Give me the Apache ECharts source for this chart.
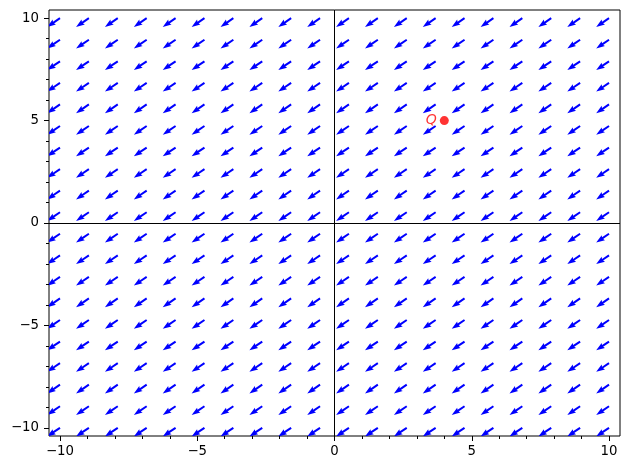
<!DOCTYPE html>
<html>
<head>
<meta charset="utf-8">
<script src="https://cdn.jsdelivr.net/npm/echarts@6/dist/echarts.min.js"></script>
<style>
html,body{margin:0;padding:0;background:#fff;}
#chart{width:630px;height:470px;}
</style>
</head>
<body>
<div id="chart"></div>
<script>
// Grid of sample points (20 per axis, from -10 to 10)
const gridX = [-10, -8.947, -7.895, -6.842, -5.789, -4.737, -3.684, -2.632, -1.579, -0.526, 0.526, 1.579, 2.632, 3.684, 4.737, 5.789, 6.842, 7.895, 8.947, 10];
const gridY = [-10, -8.947, -7.895, -6.842, -5.789, -4.737, -3.684, -2.632, -1.579, -0.526, 0.526, 1.579, 2.632, 3.684, 4.737, 5.789, 6.842, 7.895, 8.947, 10];
// Constant vector field components
const fieldU = -1;
const fieldV = -0.68;
// Point Q
const pointQ = [4, 5];
const pointLabel = 'Q';
// Ticks
const majorTicks = [-10, -5, 0, 5, 10];
const minorTicks = [-10, -9, -8, -7, -6, -5, -4, -3, -2, -1, 0, 1, 2, 3, 4, 5, 6, 7, 8, 9, 10];

const arrows = [];
gridX.forEach(x => gridY.forEach(y => arrows.push([x, y, fieldU, fieldV])));

const chart = echarts.init(document.getElementById('chart'), null, {renderer: 'canvas'});
const fmt = v => String(v).replace('-', '\u2212');
const labelStyle = {color: '#000', fontFamily: 'DejaVu Sans', fontSize: 13.3};

function arrowItem(params, api) {
  const p = api.coord([api.value(0), api.value(1)]);
  const u = api.value(2), v = -api.value(3);
  const m = Math.sqrt(u * u + v * v);
  const dx = u / m, dy = v / m;
  const nx = -dy, ny = dx;
  const L = 15.5, w = 2, hl = 8.6, hw = 6, hal = 7.7;
  const local = [[0, -w/2], [L - hal, -w/2], [L - hl, -hw/2], [L, 0], [L - hl, hw/2], [L - hal, w/2], [0, w/2]];
  const pts = local.map(([a, b]) => [p[0] + a * dx + b * nx, p[1] + a * dy + b * ny]);
  return {type: 'polygon', shape: {points: pts}, style: {fill: '#0000ff', stroke: null}};
}

chart.setOption({
  animation: false,
  backgroundColor: '#fff',
  grid: {left: 49, right: 10, top: 10, bottom: 34, show: true, borderColor: '#000', borderWidth: 1, backgroundColor: 'transparent'},
  xAxis: [
    {type: 'value', min: -10.4, max: 10.4, position: 'bottom',
     axisLine: {show: false, onZero: false}, splitLine: {show: false},
     axisTick: {show: true, length: 5, lineStyle: {color: '#000', width: 1}, customValues: majorTicks},
     axisLabel: Object.assign({margin: 9, customValues: majorTicks, formatter: fmt}, labelStyle)},
    {type: 'value', min: -10.4, max: 10.4, position: 'bottom',
     axisLine: {show: false, onZero: false}, splitLine: {show: false},
     axisTick: {show: true, length: 3, lineStyle: {color: '#000', width: 1}, customValues: minorTicks},
     axisLabel: {show: false}}
  ],
  yAxis: [
    {type: 'value', min: -10.4, max: 10.4, position: 'left',
     axisLine: {show: false, onZero: false}, splitLine: {show: false},
     axisTick: {show: true, length: 5, lineStyle: {color: '#000', width: 1}, customValues: majorTicks},
     axisLabel: Object.assign({margin: 10, customValues: majorTicks, formatter: fmt}, labelStyle)},
    {type: 'value', min: -10.4, max: 10.4, position: 'left',
     axisLine: {show: false, onZero: false}, splitLine: {show: false},
     axisTick: {show: true, length: 3, lineStyle: {color: '#000', width: 1}, customValues: minorTicks},
     axisLabel: {show: false}}
  ],
  series: [
    {type: 'line', data: [], silent: true,
     markLine: {silent: true, symbol: 'none', label: {show: false},
       lineStyle: {color: '#000', width: 1, type: 'solid'},
       data: [{xAxis: 0}, {yAxis: 0}]}},
    {type: 'custom', renderItem: arrowItem, data: arrows, clip: true, silent: true, z: 3},
    {type: 'scatter', data: [pointQ], symbol: 'circle', symbolSize: 9, silent: true, z: 4,
     itemStyle: {color: '#ff0000'},
     label: {show: true, position: 'left', distance: 3, formatter: pointLabel,
       color: '#ff0000', fontFamily: 'DejaVu Sans', fontStyle: 'italic', fontSize: 14}}
  ]
});
</script>
</body>
</html>
